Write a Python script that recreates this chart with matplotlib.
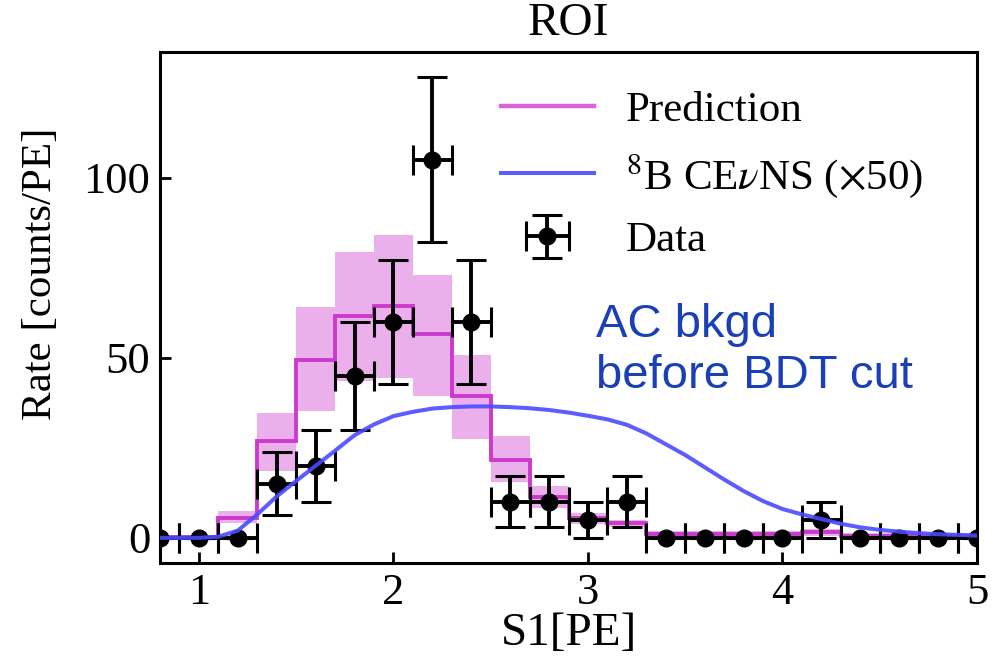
import numpy as np
import matplotlib
matplotlib.use("Agg")
import matplotlib.pyplot as plt

plt.rcParams['font.family'] = ['Liberation Serif', 'DejaVu Serif']
plt.rcParams['mathtext.fontset'] = 'stix'

# S1 bin centres (bin width 0.2 PE)
s1_centers = [0.8, 1.0, 1.2, 1.4, 1.6, 1.8, 2.0, 2.2, 2.4, 2.6, 2.8,
              3.0, 3.2, 3.4, 3.6, 3.8, 4.0, 4.2, 4.4, 4.6, 4.8, 5.0]
data_rate = [0, 0, 0, 15, 20, 45, 60, 105, 60, 10, 10,
             5, 10, 0, 0, 0, 0, 5, 0, 0, 0, 0]
data_err = [0, 0, 0, 8.7, 10, 15, 17.3, 22.9, 17.3, 7.1, 7.1,
            5, 7.1, 0, 0, 0, 0, 5, 0, 0, 0, 0]

pred_rate = [0.3, 0.3, 5.5, 27, 49.5, 61.5, 64.5, 56.5, 39.5, 21.5, 11.2,
             5.4, 4.0, 1.0, 1.0, 1.0, 1.0, 1.5, 0.5, 0.5, 0.5, 0.5]
pred_hi = [0.8, 0.8, 7.5, 34.8, 64, 79.5, 84, 73, 50.7, 28.3, 14.4,
           7.0, 5.0, 1.8, 1.8, 1.8, 1.8, 2.5, 1.2, 1.2, 1.2, 1.2]
pred_lo = [0, 0, 4.0, 18.6, 35.3, 43.5, 44.5, 39.5, 27.5, 15.6, 8.2,
           3.8, 3.0, 0.3, 0.3, 0.3, 0.3, 0.6, 0, 0, 0, 0]

# 8B CEvNS signal shape, scaled x50
cevns_s1 = [0.8, 0.9, 1.0, 1.1, 1.2, 1.3, 1.4, 1.5, 1.6, 1.7, 1.8, 1.9,
            2.0, 2.1, 2.2, 2.3, 2.4, 2.5, 2.6, 2.7, 2.8, 2.9, 3.0, 3.1,
            3.2, 3.3, 3.4, 3.5, 3.6, 3.7, 3.8, 3.9, 4.0, 4.1, 4.2, 4.3,
            4.4, 4.5, 4.6, 4.7, 4.8, 4.9, 5.0]
cevns_rate = [0, 0, 0, 0.3, 2.0, 6.5, 11.5, 15.8, 20, 24.2, 28.5, 31.5,
              33.8, 35.0, 35.9, 36.3, 36.5, 36.5, 36.3, 36.0, 35.5, 34.8, 33.9, 32.9,
              31.4, 29.0, 26.0, 23.0, 19.6, 16.2, 13.0, 10.2, 8.0, 6.5, 5.2, 3.9,
              2.9, 2.2, 1.7, 1.3, 1.0, 0.8, 0.6]

centers = np.array(s1_centers)
edges = np.append(centers - 0.1, centers[-1] + 0.1)

fig = plt.figure(figsize=(10, 6.65), dpi=100)
ax = fig.add_axes([0.16, 0.1534, 0.817, 0.7686])

ax.stairs(pred_hi, edges, baseline=pred_lo, fill=True,
          color='#ebb0eb', lw=0, zorder=1)
ax.stairs(pred_rate, edges, color='#cc3acc', lw=2.8, zorder=2)
ax.plot([], [], color='#d966d9', lw=3.2, label='Prediction')

ax.errorbar(centers, data_rate, yerr=data_err, xerr=0.1, fmt='o',
            color='black', ms=12, elinewidth=2.8, capsize=11,
            capthick=2.2, zorder=3, label='Data')

ax.plot(cevns_s1, cevns_rate, color='#4b4bff', lw=2.9, alpha=0.9,
        zorder=4, label=r'$^{8}$B CE$\nu$NS ($\times$50)')

ax.set_xlim(0.8, 5.0)
ax.set_ylim(-7, 135)
ax.set_xticks([1, 2, 3, 4, 5])
ax.set_yticks([0, 50, 100])
ax.tick_params(direction='in', length=8, width=2, labelsize=32, pad=7)
for sp in ax.spines.values():
    sp.set_linewidth(2.2)

ax.set_title('ROI', fontsize=34, pad=12)
ax.set_xlabel('S1[PE]', fontsize=34, labelpad=0)
ax.set_ylabel('Rate [counts/PE]', fontsize=31)
ax.yaxis.set_label_coords(-0.122, 0.565)

h, l = ax.get_legend_handles_labels()
order = [l.index('Prediction'), l.index(r'$^{8}$B CE$\nu$NS ($\times$50)'), l.index('Data')]
ax.legend([h[i] for i in order], [l[i] for i in order], loc='upper left',
          bbox_to_anchor=(0.37, 1.0), frameon=False, fontsize=31,
          handlelength=2.15, handletextpad=0.75, labelspacing=0.5)

ann = dict(transform=ax.transAxes, family=['Liberation Sans', 'DejaVu Sans'],
           fontsize=34, color='#1a40b8', va='baseline', ha='left')
ax.text(0.534, 0.442, 'AC bkgd', **ann)
ax.text(0.534, 0.342, 'before BDT cut', **ann)

fig.savefig('out.png', dpi=100)
